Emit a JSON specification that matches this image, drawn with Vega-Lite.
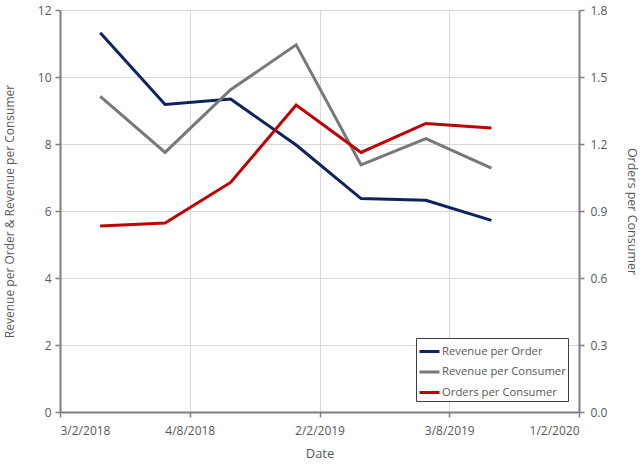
{
  "$schema": "https://vega.github.io/schema/vega-lite/v6.json",
  "width": 519,
  "height": 402,
  "autosize": {"type": "none"},
  "padding": {"left": 60, "top": 10, "right": 61, "bottom": 52},
  "background": "white",
  "config": {
    "view": {"stroke": null},
    "font": "Open Sans",
    "axis": {
      "labelFont": "Open Sans",
      "labelFontSize": 12,
      "labelColor": "#595959",
      "titleFont": "Open Sans",
      "titleFontSize": 13,
      "titleFontWeight": "normal",
      "titleColor": "#595959",
      "domainColor": "#7f7f7f",
      "domainWidth": 2,
      "tickColor": "#7f7f7f",
      "tickWidth": 1.5,
      "tickSize": 5,
      "gridColor": "#d9d9d9",
      "gridWidth": 1
    }
  },
  "data": {
    "values": [
      {"t": 0.62, "series": "Revenue per Order", "value": 11.32},
      {"t": 1.62, "series": "Revenue per Order", "value": 9.18},
      {"t": 2.63, "series": "Revenue per Order", "value": 9.34},
      {"t": 3.64, "series": "Revenue per Order", "value": 7.97},
      {"t": 4.64, "series": "Revenue per Order", "value": 6.37},
      {"t": 5.64, "series": "Revenue per Order", "value": 6.32},
      {"t": 6.65, "series": "Revenue per Order", "value": 5.72},
      {"t": 0.62, "series": "Revenue per Consumer", "value": 9.42},
      {"t": 1.62, "series": "Revenue per Consumer", "value": 7.75},
      {"t": 2.63, "series": "Revenue per Consumer", "value": 9.62},
      {"t": 3.64, "series": "Revenue per Consumer", "value": 10.96},
      {"t": 4.64, "series": "Revenue per Consumer", "value": 7.38},
      {"t": 5.64, "series": "Revenue per Consumer", "value": 8.16},
      {"t": 6.65, "series": "Revenue per Consumer", "value": 7.28},
      {"t": 0.62, "series": "Orders per Consumer", "value": 0.833},
      {"t": 1.62, "series": "Orders per Consumer", "value": 0.846},
      {"t": 2.63, "series": "Orders per Consumer", "value": 1.028},
      {"t": 3.64, "series": "Orders per Consumer", "value": 1.374},
      {"t": 4.64, "series": "Orders per Consumer", "value": 1.162},
      {"t": 5.64, "series": "Orders per Consumer", "value": 1.292},
      {"t": 6.65, "series": "Orders per Consumer", "value": 1.272}
    ]
  },
  "layer": [
    {
      "transform": [{"filter": "datum.series !== 'Orders per Consumer'"}],
      "mark": {"type": "line", "strokeWidth": 3},
      "encoding": {
        "x": {
          "field": "t",
          "type": "quantitative",
          "scale": {"domain": [0, 8], "nice": false, "zero": false},
          "axis": {
            "values": [0, 2, 4, 6, 8],
            "labelExpr": "['3/2/2018','4/8/2018','2/2/2019','3/8/2019','1/2/2020'][round(datum.value/2)]",
            "title": "Date",
            "grid": true,
            "labelPadding": 8,
            "titlePadding": 11
          }
        },
        "y": {
          "field": "value",
          "type": "quantitative",
          "scale": {"domain": [0, 12], "nice": false},
          "axis": {
            "values": [0, 2, 4, 6, 8, 10, 12],
            "title": "Revenue per Order & Revenue per Consumer",
            "titleFontSize": 12,
            "grid": true,
            "labelPadding": 4,
            "titlePadding": 21
          }
        },
        "color": {
          "field": "series",
          "type": "nominal",
          "scale": {
            "domain": ["Revenue per Order", "Revenue per Consumer", "Orders per Consumer"],
            "range": ["#0d2360", "#787878", "#c00000"]
          },
          "legend": {
            "title": null,
            "orient": "none",
            "legendX": 356,
            "legendY": 328,
            "symbolType": "stroke",
            "symbolSize": 400,
            "symbolStrokeWidth": 3,
            "labelFont": "Open Sans",
            "labelFontSize": 11.3,
            "labelColor": "#595959",
            "labelOffset": 1,
            "rowPadding": 2.5,
            "padding": 2,
            "strokeColor": "#404040",
            "fillColor": "white"
          }
        }
      }
    },
    {
      "transform": [{"filter": "datum.series === 'Orders per Consumer'"}],
      "mark": {"type": "line", "strokeWidth": 3},
      "encoding": {
        "x": {"field": "t", "type": "quantitative"},
        "y": {
          "field": "value",
          "type": "quantitative",
          "scale": {"domain": [0, 1.8], "nice": false},
          "axis": {
            "orient": "right",
            "values": [0, 0.3, 0.6, 0.9, 1.2, 1.5, 1.8],
            "format": ".1f",
            "title": "Orders per Consumer",
            "titleFontSize": 12.5,
            "grid": false,
            "labelPadding": 6,
            "titlePadding": 18
          }
        },
        "color": {"field": "series", "type": "nominal"}
      }
    }
  ],
  "resolve": {"scale": {"y": "independent"}}
}
